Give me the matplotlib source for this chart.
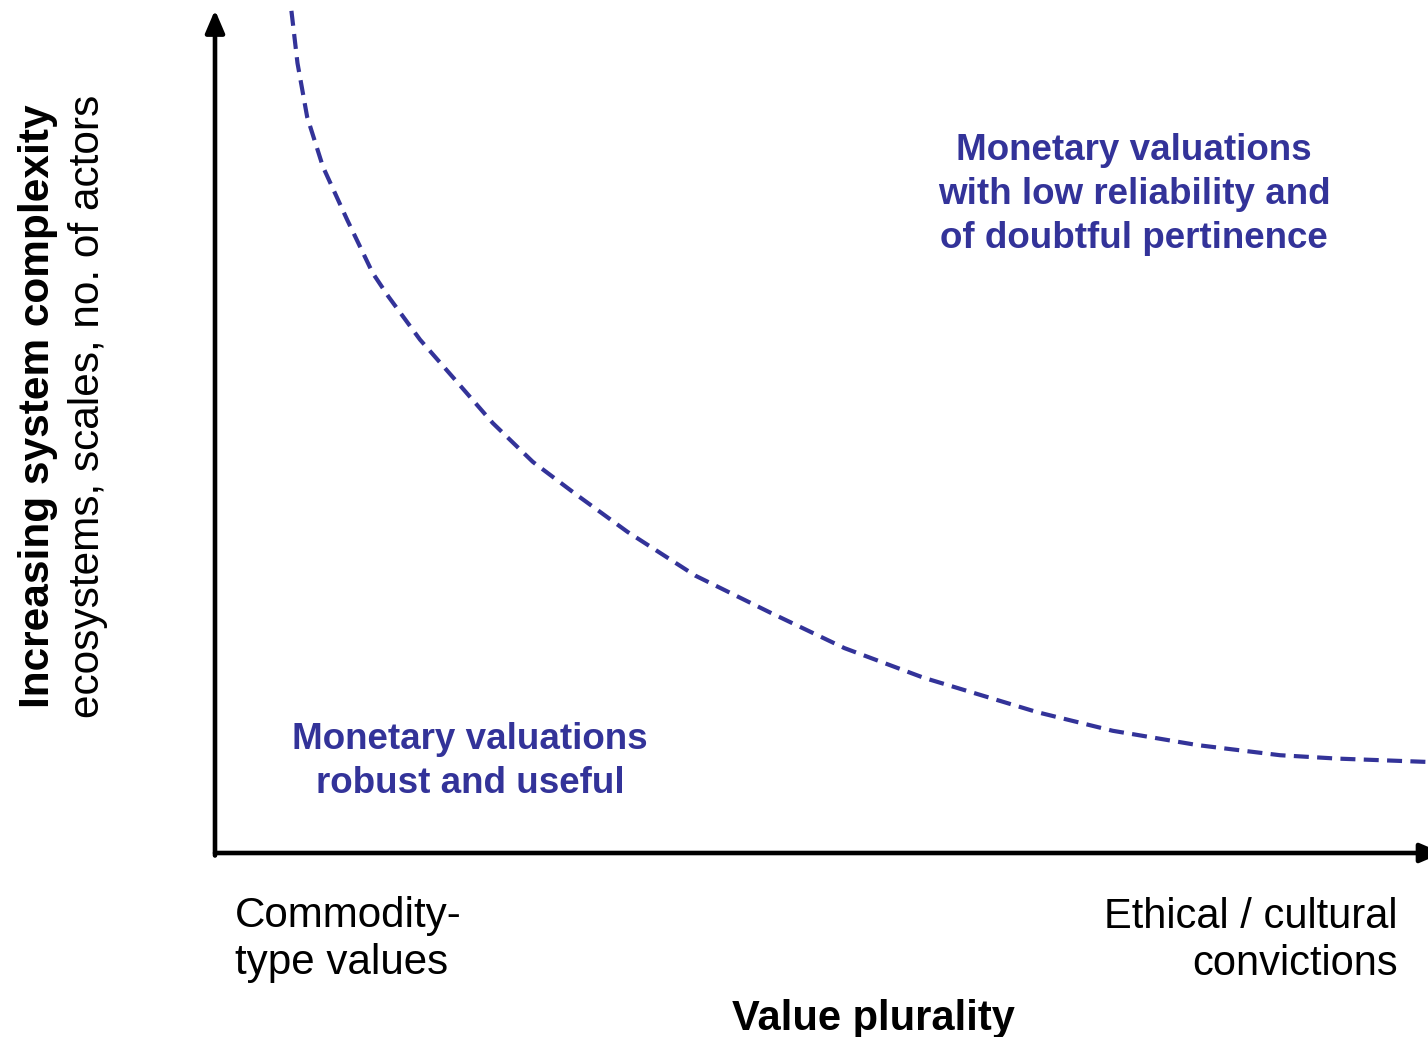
import numpy as np
import matplotlib.pyplot as plt

plt.rcParams['font.family'] = ['Liberation Sans', 'DejaVu Sans']

# boundary curve (x: value plurality, y: system complexity, 0-100)
curve_x = [6.3, 6.8, 7.6, 8.9, 10.9, 13.0, 14.3, 16.9, 20.0, 22.9, 26.2, 29.8,
           34.0, 39.6, 45.8, 51.9, 58.4, 67.8, 74.0, 81.0, 87.8, 92.5, 100.0]
curve_y = [99.9, 93.7, 87.3, 81.4, 75.1, 68.8, 66.0, 60.9, 55.8, 51.0, 46.4, 42.5,
           38.1, 32.9, 28.5, 24.3, 20.8, 16.7, 14.5, 12.8, 11.6, 11.2, 10.8]

region_low = "Monetary valuations\nrobust and useful"
region_high = "Monetary valuations\nwith low reliability and\nof doubtful pertinence"
x_left = "Commodity-\ntype values"
x_right = "Ethical / cultural\nconvictions"
x_title = "Value plurality"
y_title = "Increasing system complexity"
y_sub = "ecosystems, scales, no. of actors"

blue = '#333399'
W, H = 1428, 1037

fig = plt.figure(figsize=(W / 100, H / 100), dpi=100)
# axes origin at (215, 853) px, top at the arrow tip
ax = fig.add_axes([215 / W, (H - 853) / H, (W - 215) / W, (853 - 10) / H])
ax.set_xlim(0, 100)
ax.set_ylim(0, 100)
ax.axis('off')

ax.plot(curve_x, curve_y, color=blue, lw=3, linestyle=(0, (3.6, 2.0)),
        clip_on=False)

arr = dict(arrowstyle='-|>,head_length=0.75,head_width=0.32', lw=3.3,
           color='k', mutation_scale=18, shrinkA=0, shrinkB=0)
ax.annotate('', xy=(0, 1), xytext=(0, -0.003), xycoords='axes fraction',
            arrowprops=arr, annotation_clip=False)
ax.annotate('', xy=(1.012, 0), xytext=(0, 0), xycoords='axes fraction',
            arrowprops=arr, annotation_clip=False)


def px(x, y):
    return x / W, 1 - y / H


# multi-line texts are placed by the baseline of their last line
fig.text(*px(1134, 248), region_high, color=blue, fontsize=26.5, fontweight='bold',
         ha='center', va='baseline', linespacing=1.34, multialignment='center')
fig.text(*px(470, 793), region_low, color=blue, fontsize=26.5, fontweight='bold',
         ha='center', va='baseline', linespacing=1.34, multialignment='center')

fig.text(*px(235, 974), x_left, fontsize=30.3, ha='left', va='baseline',
         linespacing=1.22, multialignment='left')
fig.text(*px(1398, 975), x_right, fontsize=30, ha='right', va='baseline',
         linespacing=1.22, multialignment='right')
fig.text(*px(873, 1030), x_title, fontsize=30, fontweight='bold',
         ha='center', va='baseline')

fig.text(*px(38, 406), y_title, fontsize=30.5, fontweight='bold', rotation=90,
         ha='center', va='center')
fig.text(*px(88, 406), y_sub, fontsize=30.5, rotation=90,
         ha='center', va='center')

fig.savefig('out.png', dpi=100)
